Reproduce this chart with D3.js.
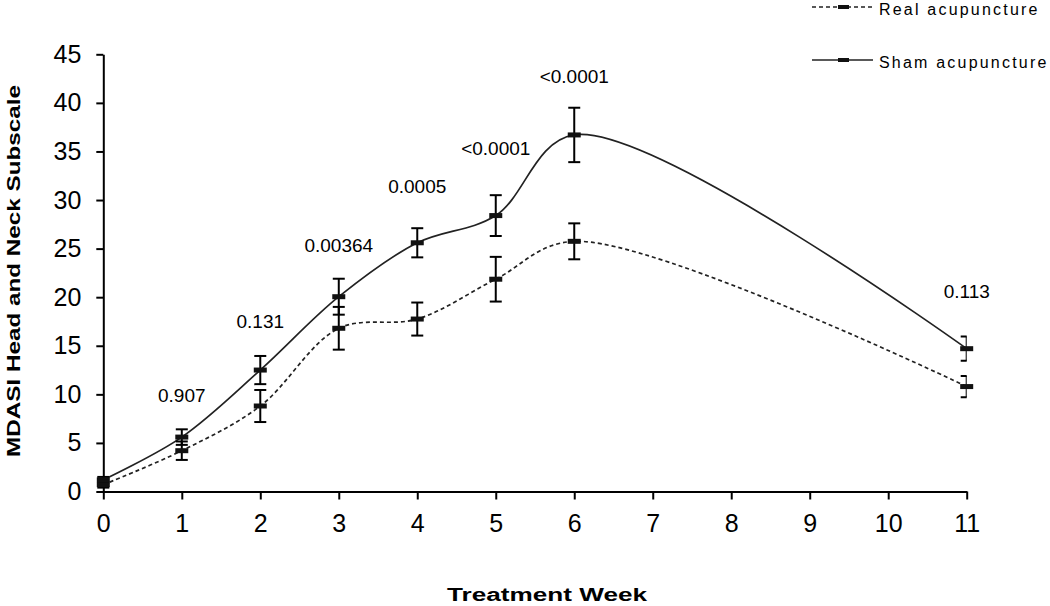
<!DOCTYPE html>
<html>
<head>
<meta charset="utf-8">
<script src="https://cdn.jsdelivr.net/npm/d3@7"></script>
<style>
  html, body { margin: 0; padding: 0; background: #fff; }
  svg { display: block; }
  text { font-family: "Liberation Sans", Arial, sans-serif; fill: #000; }
</style>
</head>
<body>
<svg id="chart" width="1050" height="606"></svg>
<script>
// ---- data ----
const weeks = [0, 1, 2, 3, 4, 5, 6, 11];
const shamMean = [1.2, 5.6, 12.5, 20.05, 25.6, 28.4, 36.7, 14.7];
const shamErr  = [0.3, 0.8, 1.45, 1.85, 1.5, 2.1, 2.8, 1.25];
const realMean = [0.7, 4.2, 8.8, 16.8, 17.75, 21.85, 25.75, 10.8];
const realErr  = [0.3, 0.95, 1.65, 2.2, 1.7, 2.3, 1.85, 1.1];
const pWeeks  = [1, 2, 3, 4, 5, 6, 11];
const pLabels = ["0.907", "0.131", "0.00364", "0.0005", "<0.0001", "<0.0001", "0.113"];
const pLevels = [9.2, 16.8, 24.65, 30.7, 34.6, 42.0, 19.9];
const xTicks = [0, 1, 2, 3, 4, 5, 6, 7, 8, 9, 10, 11];
const yTicks = [0, 5, 10, 15, 20, 25, 30, 35, 40, 45];
const seriesNames = ["Real acupuncture", "Sham acupuncture"];

(function () {
// ---- layout ----
const svg = d3.select("#chart");
const pLeft = 103.3, pRight = 966.7, pTop = 54.3, pBottom = 491.5;
const x = d3.scaleLinear().domain([0, 11]).range([pLeft, pRight]);
const y = d3.scaleLinear().domain([0, 45]).range([pBottom, pTop]);

const series = [
  { name: seriesNames[0], mean: realMean, err: realErr, dash: "4,3" },
  { name: seriesNames[1], mean: shamMean, err: shamErr, dash: null }
];

// clip for error bars (plot right edge)
svg.append("clipPath").attr("id", "clipR")
  .append("rect").attr("x", 0).attr("y", 0).attr("width", pRight).attr("height", 606);

// ---- axes ----
const yAxis = d3.axisLeft(y).tickValues(yTicks).tickSize(7).tickSizeOuter(0).tickPadding(15);
const gy = svg.append("g").attr("transform", `translate(${pLeft},0)`).call(yAxis);
gy.selectAll("path, line").attr("stroke", "#000").attr("stroke-width", 2);
gy.selectAll("text").style("font-size", "25px").attr("font-family", "Liberation Sans, Arial, sans-serif");

const xAxis = d3.axisBottom(x).tickValues(xTicks).tickSize(8).tickSizeOuter(0).tickPadding(15);
const gx = svg.append("g").attr("transform", `translate(0,${pBottom})`).call(xAxis);
gx.selectAll("path, line").attr("stroke", "#000").attr("stroke-width", 2);
gx.selectAll("text").style("font-size", "25px").attr("font-family", "Liberation Sans, Arial, sans-serif");

// ---- lines ----
const line = d3.line().curve(d3.curveCatmullRom.alpha(0.5));
series.forEach(s => {
  const pts = weeks.map((w, i) => [x(w), y(s.mean[i])]);
  svg.append("path")
    .attr("d", line(pts))
    .attr("fill", "none")
    .attr("stroke", "#222")
    .attr("stroke-width", 1.7)
    .attr("stroke-dasharray", s.dash);
});

// ---- error bars ----
const eb = svg.append("g").attr("clip-path", "url(#clipR)");
series.forEach(s => {
  weeks.forEach((w, i) => {
    const cx = x(w), y1 = y(s.mean[i] + s.err[i]), y2 = y(s.mean[i] - s.err[i]);
    eb.append("line").attr("x1", cx).attr("x2", cx).attr("y1", y1).attr("y2", y2)
      .attr("stroke", "#000").attr("stroke-width", 2);
    [y1, y2].forEach(yy => {
      eb.append("line").attr("x1", cx - 6).attr("x2", cx + 6).attr("y1", yy).attr("y2", yy)
        .attr("stroke", "#000").attr("stroke-width", 2);
    });
  });
});

// ---- markers ----
series.forEach(s => {
  weeks.forEach((w, i) => {
    svg.append("rect")
      .attr("x", x(w) - 6.5).attr("y", y(s.mean[i]) - 2.5)
      .attr("width", 13).attr("height", 5)
      .attr("fill", "#111");
  });
});

// ---- p-value labels ----
pWeeks.forEach((w, i) => {
  svg.append("text")
    .attr("x", x(w)).attr("y", y(pLevels[i]))
    .attr("text-anchor", "middle")
    .style("font-size", "19px")
    .text(pLabels[i]);
});

// ---- legend ----
const legY = [7, 60];
series.forEach((s, i) => {
  const g = svg.append("g");
  g.append("line").attr("x1", 812).attr("x2", 873).attr("y1", legY[i]).attr("y2", legY[i])
    .attr("stroke", "#222").attr("stroke-width", 1.7).attr("stroke-dasharray", s.dash);
  g.append("rect").attr("x", 838).attr("y", legY[i] - 2).attr("width", 11).attr("height", 4).attr("fill", "#111");
  g.append("text").attr("x", 879).attr("y", legY[i] + 8)
    .style("font-size", "16px").style("letter-spacing", "2.2px")
    .text(s.name);
});

// ---- axis titles ----
svg.append("text")
  .attr("x", 447).attr("y", 601)
  .attr("textLength", 200).attr("lengthAdjust", "spacingAndGlyphs")
  .style("font-size", "18px").style("font-weight", "bold")
  .attr("font-family", "DejaVu Sans, sans-serif")
  .text("Treatment Week");

svg.append("text")
  .attr("transform", "translate(20,271) rotate(-90)")
  .attr("text-anchor", "middle")
  .attr("textLength", 372).attr("lengthAdjust", "spacingAndGlyphs")
  .style("font-size", "18px").style("font-weight", "bold")
  .text("MDASI Head and Neck Subscale");
})();
</script>
</body>
</html>
